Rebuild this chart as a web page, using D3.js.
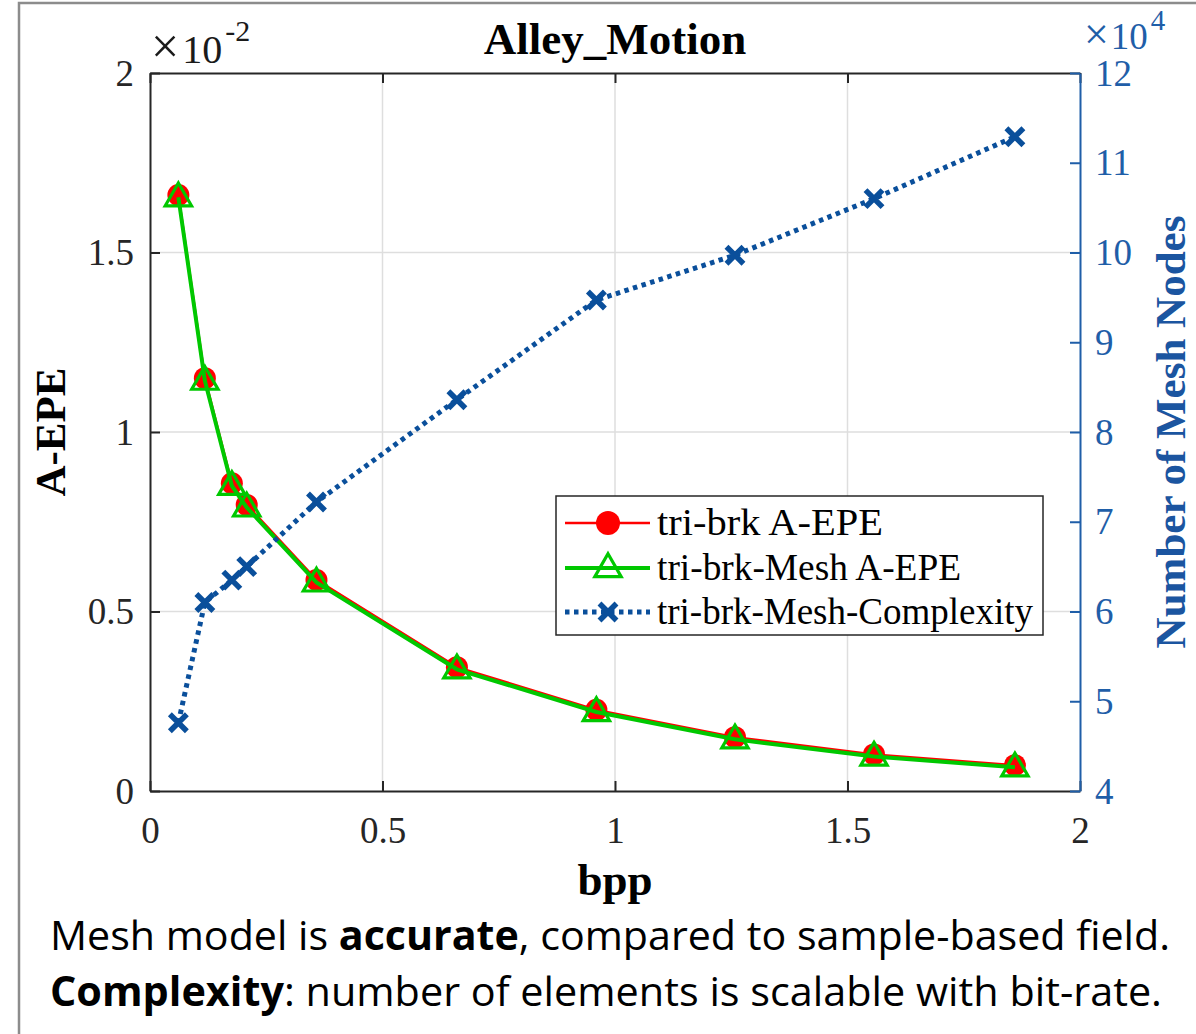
<!DOCTYPE html>
<html>
<head>
<meta charset="utf-8">
<script src="https://cdn.jsdelivr.net/npm/d3@7"></script>
<style>
  html, body { margin: 0; padding: 0; background: #fff; }
  svg { display: block; }
  .serif { font-family: "Liberation Serif", "Times New Roman", serif; }
</style>
</head>
<body>
<script>
// bit rate (bpp) of each operating point
const bpp       = [0.061, 0.118, 0.176, 0.208, 0.358, 0.660, 0.960, 1.258, 1.557, 1.860];
// A-EPE in units of 1e-2
const epeTriBrk = [1.660, 1.150, 0.857, 0.797, 0.588, 0.345, 0.226, 0.150, 0.102, 0.072];
const epeMesh   = [1.654, 1.143, 0.850, 0.790, 0.581, 0.339, 0.220, 0.144, 0.096, 0.066];
// number of mesh nodes in units of 1e4
const meshNodes = [4.76, 6.10, 6.35, 6.50, 7.22, 8.36, 9.47, 9.97, 10.60, 11.29];

const xTicks      = [0, 0.5, 1, 1.5, 2];
const yLeftTicks  = [0, 0.5, 1, 1.5, 2];
const yRightTicks = [4, 5, 6, 7, 8, 9, 10, 11, 12];
const legendLabels = ['tri-brk A-EPE', 'tri-brk-Mesh A-EPE', 'tri-brk-Mesh-Complexity'];

const width  = 1196,
      height = 1034,
      plot   = { left: 150, right: 1080, top: 73, bottom: 791 },
      red    = '#ff0000',
      green  = '#00c800',
      blue   = '#0a4f9b',
      axisBlue = '#1f5ea8',
      serif  = '"Liberation Serif", "Times New Roman", serif';

const x  = d3.scaleLinear().domain([0, 2]).range([plot.left, plot.right]);
const yL = d3.scaleLinear().domain([0, 2]).range([plot.bottom, plot.top]);
const yR = d3.scaleLinear().domain([4, 12]).range([plot.bottom, plot.top]);

const svg = d3.select('body').append('svg')
  .attr('width', width)
  .attr('height', height);

// outer frame of the slide crop
svg.append('rect')
  .attr('x', 19).attr('y', 3)
  .attr('width', width + 20).attr('height', height + 20)
  .attr('fill', 'none')
  .attr('stroke', '#8c8c8c')
  .attr('stroke-width', 2.5);

// grid
const grid = svg.append('g').attr('stroke', '#dedede').attr('stroke-width', 1.5);
for (const t of xTicks.slice(1, -1)) {
  grid.append('line')
    .attr('x1', x(t)).attr('x2', x(t))
    .attr('y1', plot.top).attr('y2', plot.bottom);
}
for (const t of yLeftTicks.slice(1, -1)) {
  grid.append('line')
    .attr('x1', plot.left).attr('x2', plot.right)
    .attr('y1', yL(t)).attr('y2', yL(t));
}

const fmt = d => String(d);

const styleAxis = (g, color) => {
  g.attr('font-family', serif);
  g.select('.domain').attr('stroke', color).attr('stroke-width', 2);
  g.selectAll('.tick line').attr('stroke', color).attr('stroke-width', 2);
  g.selectAll('.tick text')
    .attr('fill', color)
    .style('font-family', serif)
    .style('font-size', '37px');
};

// bottom
const gx = svg.append('g')
  .attr('transform', `translate(0,${plot.bottom})`)
  .call(d3.axisBottom(x).tickValues(xTicks).tickFormat(fmt).tickSizeInner(-10).tickSizeOuter(0));
styleAxis(gx, '#262626');
gx.selectAll('.tick text').attr('y', 52).attr('dy', 0);

// top (ticks only)
const gt = svg.append('g')
  .attr('transform', `translate(0,${plot.top})`)
  .call(d3.axisTop(x).tickValues(xTicks).tickFormat('').tickSizeInner(-10).tickSizeOuter(0));
styleAxis(gt, '#262626');

// left
const gl = svg.append('g')
  .attr('transform', `translate(${plot.left},0)`)
  .call(d3.axisLeft(yL).tickValues(yLeftTicks).tickFormat(fmt).tickSizeInner(-10).tickSizeOuter(0));
styleAxis(gl, '#262626');
gl.selectAll('.tick text').attr('x', -16).attr('dy', '0.33em');

// right
const gr = svg.append('g')
  .attr('transform', `translate(${plot.right},0)`)
  .call(d3.axisRight(yR).tickValues(yRightTicks).tickFormat(fmt).tickSizeInner(-10).tickSizeOuter(0));
styleAxis(gr, axisBlue);
gr.selectAll('.tick text').attr('x', 15).attr('dy', '0.33em');

// exponent labels
const expL = svg.append('text').attr('class', 'serif')
  .attr('x', 151).attr('y', 63)
  .attr('fill', '#1a1a1a').style('font-size', '40px');
expL.append('tspan').style('font-size', '50px').text('\u00d7');
expL.append('tspan').attr('dx', 3).text('10');
expL.append('tspan').attr('dy', -22).attr('dx', 3).style('font-size', '30px').text('-2');

const expR = svg.append('text').attr('class', 'serif')
  .attr('x', 1084).attr('y', 49)
  .attr('fill', axisBlue).style('font-size', '37px');
expR.append('tspan').style('font-size', '44px').text('\u00d7');
expR.append('tspan').attr('dx', 2).text('10');
expR.append('tspan').attr('dy', -19).attr('dx', 3).style('font-size', '29px').text('4');

// titles
svg.append('text').attr('class', 'serif')
  .attr('x', (plot.left + plot.right) / 2).attr('y', 54)
  .attr('text-anchor', 'middle')
  .style('font-size', '45px').style('font-weight', 'bold')
  .text('Alley_Motion');

svg.append('text').attr('class', 'serif')
  .attr('x', (plot.left + plot.right) / 2).attr('y', 895)
  .attr('text-anchor', 'middle')
  .style('font-size', '45px').style('font-weight', 'bold')
  .text('bpp');

svg.append('text').attr('class', 'serif')
  .attr('transform', `translate(65,${(plot.top + plot.bottom) / 2}) rotate(-90)`)
  .attr('text-anchor', 'middle')
  .style('font-size', '43px').style('font-weight', 'bold')
  .text('A-EPE');

svg.append('text').attr('class', 'serif')
  .attr('transform', `translate(1185,${(plot.top + plot.bottom) / 2}) rotate(-90)`)
  .attr('text-anchor', 'middle')
  .attr('fill', '#1b55a0')
  .style('font-size', '43px').style('font-weight', 'bold')
  .text('Number of Mesh Nodes');

// series
const epeRows  = bpp.map((b, i) => ({ x: b, y: epeTriBrk[i] }));
const meshRows = bpp.map((b, i) => ({ x: b, y: epeMesh[i] }));
const nodeRows = bpp.map((b, i) => ({ x: b, y: meshNodes[i] }));

const lineL = d3.line().x(d => x(d.x)).y(d => yL(d.y));
const lineR = d3.line().x(d => x(d.x)).y(d => yR(d.y));

const tri = d3.symbol().type(d3.symbolTriangle).size(300);
const cross = s => `M${-s},${-s}L${s},${s}M${-s},${s}L${s},${-s}`;

svg.append('path').datum(epeRows)
  .attr('d', lineL).attr('fill', 'none')
  .attr('stroke', red).attr('stroke-width', 2.5);
svg.append('g').selectAll('circle').data(epeRows).join('circle')
  .attr('cx', d => x(d.x)).attr('cy', d => yL(d.y)).attr('r', 11)
  .attr('fill', red);

svg.append('path').datum(meshRows)
  .attr('d', lineL).attr('fill', 'none')
  .attr('stroke', green).attr('stroke-width', 4);
svg.append('g').selectAll('path').data(meshRows).join('path')
  .attr('transform', d => `translate(${x(d.x)},${yL(d.y) + 1})`)
  .attr('d', tri).attr('fill', 'none')
  .attr('stroke', green).attr('stroke-width', 3.2);

svg.append('path').datum(nodeRows)
  .attr('d', lineR).attr('fill', 'none')
  .attr('stroke', blue).attr('stroke-width', 5)
  .attr('stroke-dasharray', '4.5,4.5');
svg.append('g').selectAll('path').data(nodeRows).join('path')
  .attr('transform', d => `translate(${x(d.x)},${yR(d.y)})`)
  .attr('d', cross(8.5)).attr('fill', 'none')
  .attr('stroke', blue).attr('stroke-width', 5.5);

// legend
const legend = svg.append('g').attr('transform', 'translate(556,496)');
legend.append('rect')
  .attr('width', 487).attr('height', 139)
  .attr('fill', '#fff').attr('stroke', '#262626').attr('stroke-width', 1.5);

const rowY = [27, 72, 116];
const rows = legend.selectAll('g.row').data(legendLabels).join('g')
  .attr('class', 'row')
  .attr('transform', (d, i) => `translate(0,${rowY[i]})`);

rows.append('line')
  .attr('x1', 9).attr('x2', 94)
  .attr('stroke', (d, i) => [red, green, blue][i])
  .attr('stroke-width', (d, i) => [2.5, 4, 5][i])
  .attr('stroke-dasharray', (d, i) => i === 2 ? '4.5,4.5' : null);

rows.filter((d, i) => i === 0).append('circle')
  .attr('cx', 52).attr('r', 12).attr('fill', red);
rows.filter((d, i) => i === 1).append('path')
  .attr('transform', 'translate(52,1)')
  .attr('d', tri).attr('fill', 'none')
  .attr('stroke', green).attr('stroke-width', 3.2);
rows.filter((d, i) => i === 2).append('path')
  .attr('transform', 'translate(52,0)')
  .attr('d', cross(8.5)).attr('fill', 'none')
  .attr('stroke', blue).attr('stroke-width', 5.5);

rows.append('text').attr('class', 'serif')
  .attr('x', 101).attr('dy', '0.33em')
  .style('font-size', '37px')
  .attr('textLength', (d, i) => [226, 304, 376][i])
  .attr('lengthAdjust', 'spacingAndGlyphs')
  .text(d => d);

// caption under the chart
const capFont = '"Open Sans", "Noto Sans", sans-serif';
const cap1 = svg.append('text')
  .attr('x', 50).attr('y', 950)
  .attr('textLength', 1120).attr('lengthAdjust', 'spacingAndGlyphs')
  .style('font-family', capFont).style('font-size', '41px');
cap1.append('tspan').text('Mesh model is ');
cap1.append('tspan').style('font-weight', 'bold').text('accurate');
cap1.append('tspan').text(', compared to sample-based field.');

const cap2 = svg.append('text')
  .attr('x', 50).attr('y', 1006)
  .attr('textLength', 1112).attr('lengthAdjust', 'spacingAndGlyphs')
  .style('font-family', capFont).style('font-size', '41px');
cap2.append('tspan').style('font-weight', 'bold').text('Complexity');
cap2.append('tspan').text(': number of elements is scalable with bit-rate.');
</script>
</body>
</html>
